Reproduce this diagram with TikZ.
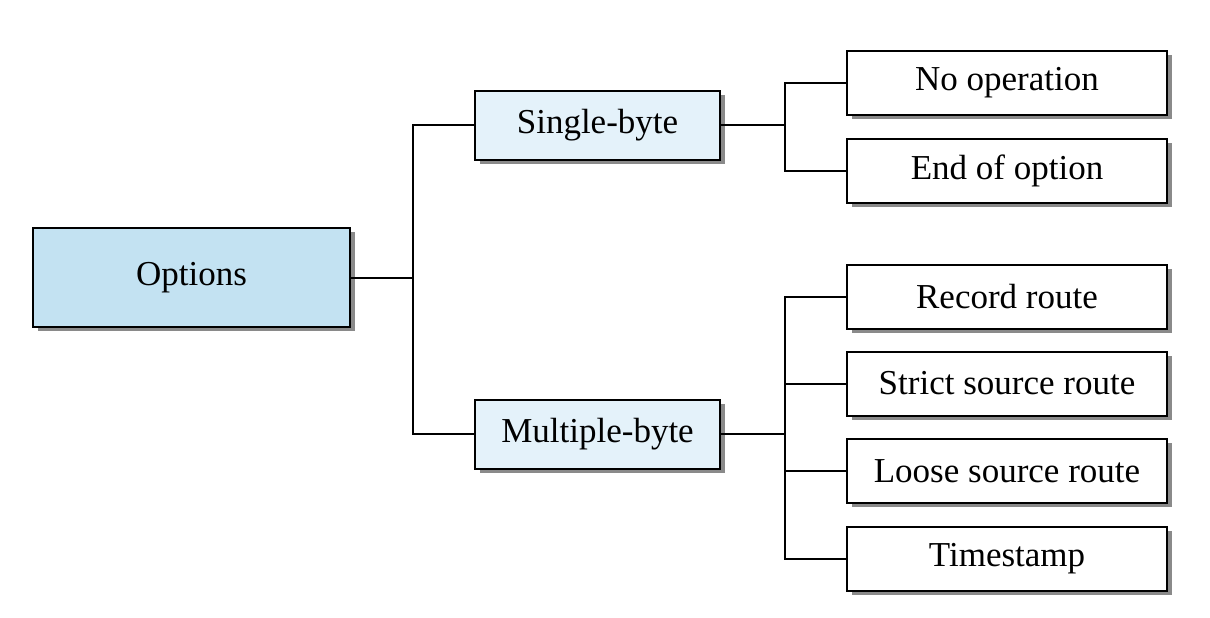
\documentclass[tikz,border=0pt]{standalone}
\usepackage{fontspec}
\setmainfont{Liberation Serif}
\usetikzlibrary{shadows}
\definecolor{optblue}{HTML}{C3E2F2}
\definecolor{subblue}{HTML}{E4F2FA}
\definecolor{shadowgray}{HTML}{8A8A8A}
\tikzset{
  box/.style={draw=black, line width=1pt, inner sep=0pt,
    font=\fontsize{17.5}{20}\selectfont,
    general shadow={fill=shadowgray, shadow xshift=2.5pt, shadow yshift=-2.2pt}},
  rootbox/.style={box, fill=optblue, minimum width=158.5pt, minimum height=49.5pt},
  midbox/.style={box, fill=subblue, minimum width=122.5pt, minimum height=34.5pt},
  leafbox/.style={box, fill=white, minimum width=160pt, minimum height=32pt},
  link/.style={line width=1pt}
}
\begin{document}
\begin{tikzpicture}[x=0.5pt, y=-0.5pt]
\useasboundingbox (0,0) rectangle (1210,617);
\node[rootbox] (opt) at (191.5,277.5) {Options};
\node[midbox] (sb) at (597.5,125) {Single-byte};
\node[midbox] (mb) at (597.5,434) {Multiple-byte};
\node[leafbox] (noop) at (1007,82.5) {No operation};
\node[leafbox] (eoo) at (1007,170.5) {End of option};
\node[leafbox] (rr) at (1007,296.5) {Record route};
\node[leafbox] (ssr) at (1007,383.5) {Strict source route};
\node[leafbox] (lsr) at (1007,471) {Loose source route};
\node[leafbox] (ts) at (1007,558.5) {Timestamp};
\coordinate (j1) at (413,277.5);
\coordinate (j2) at (785,125);
\coordinate (j3) at (785,434);
\draw[link] (opt.east) -- (j1);
\draw[link] (sb.west) -| (j1) |- (mb.west);
\draw[link] (sb.east) -- (j2);
\draw[link] (noop.west) -| (j2) |- (eoo.west);
\draw[link] (mb.east) -- (j3);
\draw[link] (rr.west) -| (j3) |- (ts.west);
\draw[link] (ssr.west) -- (ssr.west -| j3);
\draw[link] (lsr.west) -- (lsr.west -| j3);
\end{tikzpicture}
\end{document}
